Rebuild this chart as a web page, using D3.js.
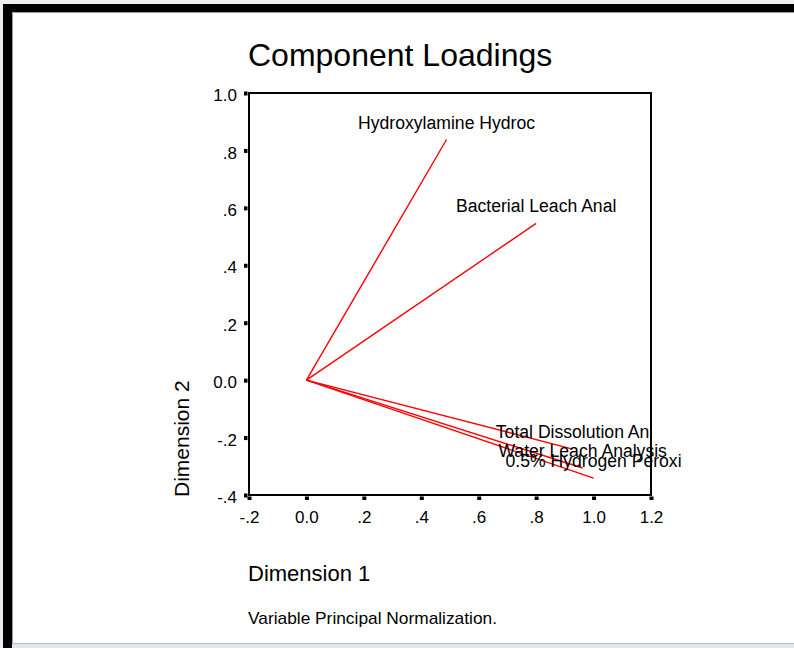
<!DOCTYPE html>
<html><head><meta charset="utf-8">
<script src="https://cdn.jsdelivr.net/npm/d3@7"></script>
<style>
html,body{margin:0;padding:0;background:#eceef1;}
svg{display:block;font-family:"Liberation Sans",Arial,sans-serif;}
</style></head>
<body>
<script>
const variables = ["Hydroxylamine Hydroc","Bacterial Leach Anal","Total Dissolution An","Water Leach Analysis","0.5% Hydrogen Peroxi"];
const dim1 = [0.488, 0.800, 0.927, 0.962, 1.000];
const dim2 = [0.838, 0.546, -0.240, -0.306, -0.341];
const xTicks = [-0.2, 0.0, 0.2, 0.4, 0.6, 0.8, 1.0, 1.2];
const yTicks = [-0.4, -0.2, 0.0, 0.2, 0.4, 0.6, 0.8, 1.0];
const fmt = v => v === 0 ? "0.0" : (Math.abs(v) >= 1 ? v.toFixed(1) : v.toFixed(1).replace(/^(-?)0\./, "$1."));

const W = 794, H = 648;
const svg = d3.select("body").append("svg").attr("width", W).attr("height", H);

// window frame
svg.append("rect").attr("x",0).attr("y",0).attr("width",W).attr("height",H).attr("fill","#eceef1");
svg.append("rect").attr("x",3).attr("y",4).attr("width",W-3).attr("height",H-4).attr("fill","#000");
svg.append("rect").attr("x",12).attr("y",12).attr("width",W-12).attr("height",631).attr("fill","#fff");
svg.append("line").attr("x1",12).attr("x2",W).attr("y1",12.5).attr("y2",12.5).attr("stroke","#9a9a9a");
svg.append("line").attr("x1",12.5).attr("x2",12.5).attr("y1",12).attr("y2",643).attr("stroke","#9a9a9a");
svg.append("rect").attr("x",12).attr("y",643).attr("width",W-12).attr("height",5).attr("fill","#e4e7eb");
svg.append("line").attr("x1",12).attr("x2",W).attr("y1",643.5).attr("y2",643.5).attr("stroke","#b8bcc2");

const x = d3.scaleLinear().domain([-0.2, 1.2]).range([249, 651]);
const y = d3.scaleLinear().domain([-0.4, 1.0]).range([495, 93]);

// title
svg.append("text").attr("x",248).attr("y",66).attr("font-size",32).attr("fill","#000").text("Component Loadings");

// frame box
const g = svg.append("g");
g.append("rect").attr("x",x(-0.2)).attr("y",y(1.0)).attr("width",x(1.2)-x(-0.2)).attr("height",y(-0.4)-y(1.0))
  .attr("fill","none").attr("stroke","#000").attr("stroke-width",2);

// vectors
const data = variables.map((n,i)=>({name:n, d1:dim1[i], d2:dim2[i]}));
g.selectAll("line.vec").data(data).enter().append("line").attr("class","vec")
  .attr("x1",x(0)).attr("y1",y(0)).attr("x2",d=>x(d.d1)).attr("y2",d=>y(d.d2))
  .attr("stroke","#ff0000").attr("stroke-width",1.4);
g.selectAll("text.lab").data(data).enter().append("text").attr("class","lab")
  .attr("x",d=>x(d.d1)).attr("y",d=>y(d.d2)-11).attr("text-anchor","middle")
  .attr("font-size",17.6).attr("fill","#000").text(d=>d.name);

// axes
const xAxis = d3.axisBottom(x).tickValues(xTicks).tickFormat(fmt).tickSize(0).tickPadding(28);
const xg = svg.append("g").attr("transform",`translate(0,${y(-0.4)})`).call(xAxis);
xg.select(".domain").remove();
xg.selectAll("text").attr("font-size",17).attr("font-family","Liberation Sans, Arial, sans-serif").attr("fill","#000").attr("dy","0");
xg.selectAll(".tick").append("rect").attr("x",-2).attr("y",1.5).attr("width",4).attr("height",3.5).attr("fill","#000");

const yAxis = d3.axisLeft(y).tickValues(yTicks).tickFormat(fmt).tickSize(0).tickPadding(12);
const yg = svg.append("g").attr("transform",`translate(${x(-0.2)},0)`).call(yAxis);
yg.select(".domain").remove();
yg.selectAll("text").attr("font-size",17).attr("font-family","Liberation Sans, Arial, sans-serif").attr("fill","#000").attr("dy","0.45em");
yg.selectAll(".tick").append("rect").attr("x",-5).attr("y",-2).attr("width",3.5).attr("height",4).attr("fill","#000");

// axis titles
svg.append("text").attr("x",248).attr("y",581).attr("font-size",22).attr("fill","#000").text("Dimension 1");
svg.append("text").attr("transform","translate(189,497) rotate(-90)").attr("font-size",21).attr("fill","#000").text("Dimension 2");
svg.append("text").attr("x",248).attr("y",624).attr("font-size",17).attr("fill","#000")
  .attr("textLength",249).attr("lengthAdjust","spacingAndGlyphs").text("Variable Principal Normalization.");
</script>
</body></html>
